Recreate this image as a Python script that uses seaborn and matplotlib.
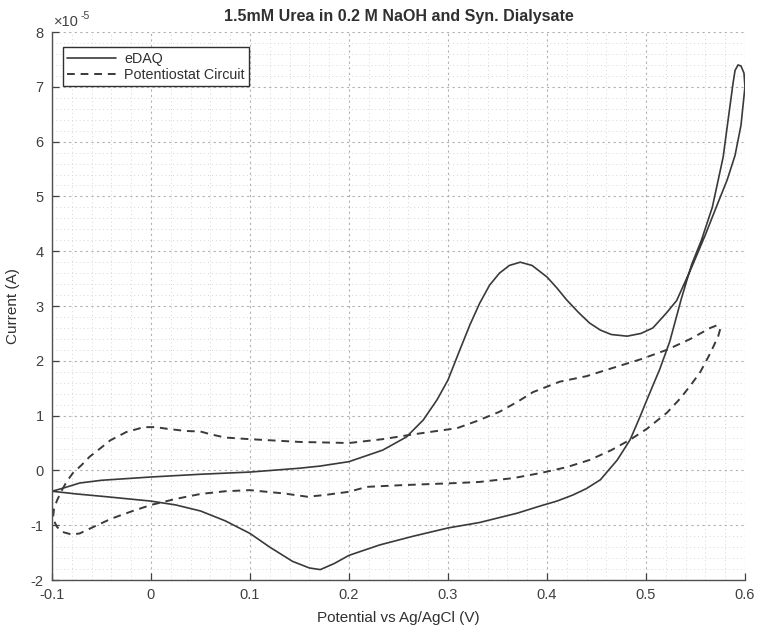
import matplotlib
matplotlib.use("Agg")
import matplotlib.pyplot as plt
import seaborn as sns
import pandas as pd
from matplotlib.ticker import MultipleLocator, FuncFormatter

# eDAQ cyclic voltammogram (current in units of 1e-5 A)
edaq_v = [-0.1, -0.09, -0.072, -0.05, 0.0, 0.05, 0.1, 0.15, 0.171, 0.2, 0.234, 0.258,
          0.275, 0.289, 0.3, 0.312, 0.322, 0.332, 0.342, 0.352, 0.362, 0.373,
          0.385, 0.4, 0.41, 0.42, 0.432, 0.443, 0.454, 0.465, 0.481, 0.495, 0.507,
          0.521, 0.531, 0.546, 0.56, 0.572, 0.582, 0.59, 0.596, 0.6, 0.599, 0.596,
          0.593, 0.59, 0.588, 0.583, 0.578, 0.567, 0.556, 0.546, 0.536, 0.524, 0.514,
          0.507, 0.501, 0.494, 0.484, 0.471, 0.462, 0.454, 0.44, 0.426, 0.41,
          0.393, 0.37, 0.332, 0.3, 0.265, 0.231, 0.2, 0.185, 0.171, 0.16, 0.143, 0.12,
          0.1, 0.075, 0.05, 0.025, 0.0, -0.045, -0.075, -0.1]
edaq_i = [-0.38, -0.33, -0.23, -0.18, -0.12, -0.07, -0.03, 0.04, 0.08, 0.16, 0.37, 0.61,
          0.92, 1.29, 1.65, 2.2, 2.65, 3.05, 3.38, 3.6, 3.74, 3.8,
          3.74, 3.53, 3.33, 3.11, 2.88, 2.69, 2.56, 2.48, 2.45, 2.5, 2.6,
          2.88, 3.1, 3.7, 4.3, 4.85, 5.3, 5.75, 6.3, 7.0, 7.25, 7.38,
          7.4, 7.3, 7.07, 6.4, 5.72, 4.8, 4.2, 3.75, 3.15, 2.35, 1.85,
          1.55, 1.29, 0.98, 0.56, 0.19, 0.0, -0.17, -0.33, -0.45, -0.56,
          -0.65, -0.78, -0.95, -1.05, -1.2, -1.36, -1.55, -1.7, -1.81, -1.78, -1.66, -1.4,
          -1.15, -0.92, -0.74, -0.63, -0.56, -0.48, -0.43, -0.38]

# Potentiostat circuit cyclic voltammogram (current in units of 1e-5 A)
pot_v = [-0.09, -0.085, -0.079, -0.07, -0.062, -0.05, -0.041, -0.025, -0.007, 0.005,
         0.016, 0.035, 0.05, 0.06, 0.075, 0.1, 0.15, 0.2, 0.234, 0.262, 0.285, 0.309,
         0.329, 0.352, 0.37, 0.386, 0.413, 0.44, 0.454, 0.47, 0.495, 0.521, 0.545,
         0.565, 0.572, 0.575, 0.573, 0.565, 0.555, 0.547, 0.535, 0.521, 0.501, 0.484,
         0.465, 0.443, 0.42, 0.393, 0.366, 0.332, 0.309, 0.252, 0.218, 0.2,
         0.175, 0.158, 0.134, 0.1, 0.075, 0.05, 0.025, 0.0, -0.02, -0.04, -0.058,
         -0.072, -0.08, -0.09, -0.095, -0.099, -0.098, -0.095, -0.09]
pot_i = [-0.36, -0.2, -0.05, 0.1, 0.25, 0.42, 0.55, 0.7, 0.79, 0.79,
         0.76, 0.72, 0.71, 0.66, 0.6, 0.57, 0.52, 0.5, 0.57, 0.65, 0.71, 0.77,
         0.9, 1.07, 1.25, 1.43, 1.62, 1.72, 1.8, 1.89, 2.03, 2.2, 2.4,
         2.6, 2.65, 2.58, 2.45, 2.14, 1.8, 1.6, 1.32, 1.05, 0.76, 0.56,
         0.37, 0.19, 0.06, -0.05, -0.14, -0.21, -0.23, -0.27, -0.3, -0.39,
         -0.45, -0.48, -0.42, -0.36, -0.38, -0.43, -0.52, -0.63, -0.75, -0.88, -1.03,
         -1.15, -1.17, -1.12, -1.03, -0.88, -0.7, -0.55, -0.36]

series_names = ["eDAQ", "Potentiostat Circuit"]
x_ticks = [-0.1, 0, 0.1, 0.2, 0.3, 0.4, 0.5, 0.6]
x_tick_labels = ["-0.1", "0", "0.1", "0.2", "0.3", "0.4", "0.5", "0.6"]
y_ticks = [-2, -1, 0, 1, 2, 3, 4, 5, 6, 7, 8]

SCALE = 1e-5
df_edaq = pd.DataFrame({"v": edaq_v, "i": [k * SCALE for k in edaq_i]})
df_pot = pd.DataFrame({"v": pot_v, "i": [k * SCALE for k in pot_i]})

sns.set_theme(style="white")
plt.rcParams["font.family"] = ["Liberation Sans", "DejaVu Sans"]
plt.rcParams["axes.unicode_minus"] = False

fig = plt.figure(figsize=(7.59, 6.33), dpi=100)
ax = fig.add_axes([0.0685, 0.0837, 0.913, 0.8657])

line_col = "#3a3a3a"
sns.lineplot(data=df_edaq, x="v", y="i", sort=False, estimator=None, ax=ax,
             color=line_col, linewidth=1.2, label=series_names[0])
sns.lineplot(data=df_pot, x="v", y="i", sort=False, estimator=None, ax=ax,
             color=line_col, linewidth=1.4, linestyle=(0, (4, 3)), label=series_names[1])

ax.set_xlim(-0.1, 0.6)
ax.set_ylim(-2 * SCALE, 8 * SCALE)
ax.set_xticks(x_ticks)
ax.set_xticklabels(x_tick_labels)
ax.set_yticks([t * SCALE for t in y_ticks])
ax.yaxis.set_major_formatter(FuncFormatter(lambda v, p: "%g" % round(v / SCALE, 6)))
ax.xaxis.set_minor_locator(MultipleLocator(0.02))
ax.yaxis.set_minor_locator(MultipleLocator(0.2 * SCALE))

ax.grid(True, which="major", color="#b0b0b0", linestyle=(0, (2, 3)), linewidth=0.8)
ax.grid(True, which="minor", color="#d6d6d6", linestyle=(0, (1, 3)), linewidth=0.7)
ax.set_axisbelow(True)

for s in ["top", "right"]:
    ax.spines[s].set_visible(False)
for s in ["left", "bottom"]:
    ax.spines[s].set_color("#505050")
    ax.spines[s].set_linewidth(1.0)

ax.tick_params(axis="both", which="major", direction="in", length=5, width=0.9,
               colors="#404040", labelsize=10.5, left=True, bottom=True, pad=6)

ax.text(0.003, 1.006, "\u00d710", transform=ax.transAxes, fontsize=10.5,
        color="#404040", ha="left", va="bottom")
ax.text(0.041, 1.02, "-5", transform=ax.transAxes, fontsize=7.5,
        color="#404040", ha="left", va="bottom")

ax.set_xlabel("Potential vs Ag/AgCl (V)", fontsize=11, color="#303030", labelpad=6)
ax.set_ylabel("Current (A)", fontsize=11, color="#303030", labelpad=8)
ax.set_title("1.5mM Urea in 0.2 M NaOH and Syn. Dialysate", fontsize=11.5,
             fontweight="bold", color="#303030", pad=8)

leg = ax.legend(loc="upper left", bbox_to_anchor=(0.005, 0.985), fontsize=10.3,
                frameon=True, fancybox=False, edgecolor="#303030", framealpha=1,
                handlelength=3.4, borderpad=0.3, labelspacing=0.15, handletextpad=0.6)
leg.get_frame().set_linewidth(1.0)
for t in leg.get_texts():
    t.set_color("#303030")

fig.savefig("out.png", dpi=100)
